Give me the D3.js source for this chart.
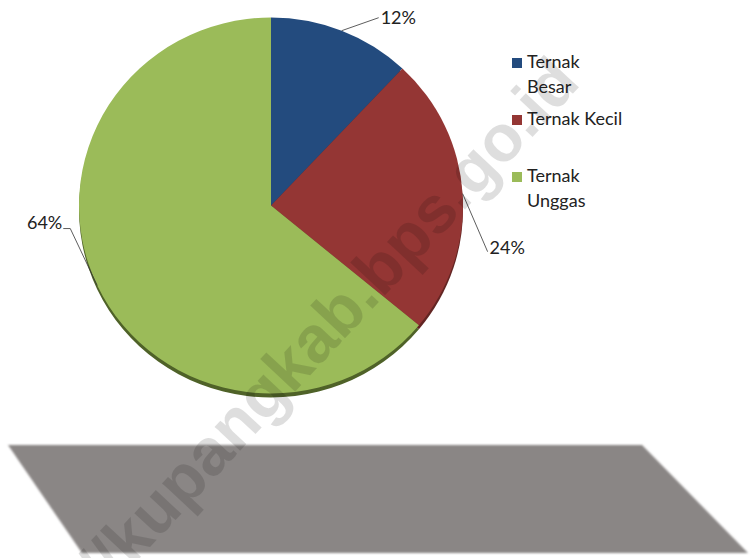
<!DOCTYPE html>
<html>
<head>
<meta charset="utf-8">
<script src="https://cdn.jsdelivr.net/npm/d3@7"></script>
<style>
  body { margin: 0; background: #fff; }
  svg { display: block; }
</style>
</head>
<body>
<div id="chart"></div>
<script>
// data
const categories = ["Ternak Besar", "Ternak Kecil", "Ternak Unggas"];
const shares = [12, 24, 64];
const labels = ["12%", "24%", "64%"];
const legendLines = [["Ternak", "Besar"], ["Ternak Kecil"], ["Ternak", "Unggas"]];

const colors = ["#234b7e", "#943634", "#9bbb59"];
const sideColors = ["#16345a", "#632523", "#4f6228"];

const width = 750, height = 558;
const cx = 271, cy = 205.5, rx = 192, ry = 188, depth = 4;

const svg = d3.select("#chart").append("svg")
    .attr("width", width)
    .attr("height", height);

svg.append("rect").attr("width", width).attr("height", height).attr("fill", "#fff");

// blur for the grey floor
const defs = svg.append("defs");
defs.append("filter").attr("id", "soft")
    .append("feGaussianBlur").attr("stdDeviation", 0.9);

// grey floor shape
svg.append("path")
    .attr("d", "M8,445 L642,445 L748,553 L82,553 Z")
    .attr("fill", "#8a8685")
    .attr("filter", "url(#soft)");

const pie = d3.pie().sort(null).value(d => d)(shares);
const arc = d3.arc().innerRadius(0).outerRadius(ry);

// side (thickness) drawn first, shifted down
const sideG = svg.append("g")
    .attr("transform", "translate(" + cx + "," + (cy + depth) + ") scale(" + (rx / ry) + ",1)");
sideG.selectAll("path").data(pie).enter().append("path")
    .attr("d", arc)
    .attr("fill", (d, i) => sideColors[i]);

const faceG = svg.append("g")
    .attr("transform", "translate(" + cx + "," + cy + ") scale(" + (rx / ry) + ",1)");
faceG.selectAll("path").data(pie).enter().append("path")
    .attr("d", arc)
    .attr("fill", (d, i) => colors[i]);

// leader lines + labels
const nudge = [[37, -13, "start", 2, 6], [25, 58, "start", 2, 2], [-27, -57, "end", -7, 0]];
const edge = a => [cx + rx * Math.sin(a), cy - ry * Math.cos(a)];

pie.forEach((d, i) => {
    const mid = (d.startAngle + d.endAngle) / 2;
    const p0 = edge(mid);
    const p1 = [p0[0] + nudge[i][0], p0[1] + nudge[i][1]];
    let pts = [p0, p1];
    if (i == 2) pts.push([p1[0] + nudge[i][3], p1[1]]);
    svg.append("path")
        .attr("d", d3.line()(pts))
        .attr("fill", "none")
        .attr("stroke", "#333")
        .attr("stroke-width", 0.8);
    const last = pts[pts.length - 1];
    svg.append("text")
        .attr("x", last[0] + (i == 2 ? -1 : nudge[i][3]))
        .attr("y", last[1] + nudge[i][4])
        .attr("text-anchor", nudge[i][2])
        .attr("font-family", "Lato, 'Open Sans', sans-serif")
        .attr("font-size", 18)
        .attr("fill", "#222")
        .text(labels[i]);
});

// legend
const legendTops = [58, 115, 172];
const legend = svg.append("g");
categories.forEach((c, i) => {
    legend.append("rect")
        .attr("x", 512).attr("y", legendTops[i])
        .attr("width", 10).attr("height", 10)
        .attr("fill", colors[i]);
    legendLines[i].forEach((t, j) => {
        legend.append("text")
            .attr("x", 527)
            .attr("y", legendTops[i] + 10 + j * 25)
            .attr("font-family", "Lato, 'Open Sans', sans-serif")
            .attr("font-size", 18)
            .attr("fill", "#222")
            .text(t);
    });
});

// watermark
svg.append("text")
    .attr("transform", "translate(582,84) rotate(-47)")
    .attr("text-anchor", "end")
    .attr("font-family", "'Liberation Sans', Arial, sans-serif")
    .attr("font-weight", "bold")
    .attr("font-size", 66)
    .attr("fill", "#000")
    .attr("fill-opacity", 0.13)
    .text("http://kupangkab.bps.go.id");
</script>
</body>
</html>
